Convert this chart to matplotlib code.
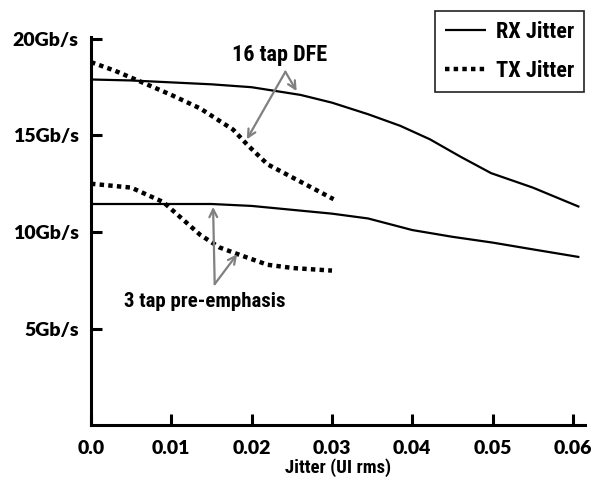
import numpy as np
import matplotlib
matplotlib.use("Agg")
import matplotlib.pyplot as plt

# values (jitter in UI rms, rate in Gb/s)
dfe_rx_x = [0.0, 0.005, 0.01, 0.015, 0.02, 0.0261, 0.03, 0.0345, 0.0385, 0.0422, 0.046, 0.0498, 0.055, 0.0608]
dfe_rx_y = [17.9, 17.85, 17.75, 17.65, 17.5, 17.1, 16.7, 16.1, 15.5, 14.8, 13.9, 13.05, 12.3, 11.3]

dfe_tx_x = [0.0, 0.003, 0.0061, 0.01, 0.0136, 0.0177, 0.0195, 0.022, 0.0261, 0.0302]
dfe_tx_y = [18.8, 18.35, 17.8, 17.1, 16.4, 15.3, 14.5, 13.5, 12.6, 11.7]

pre_rx_x = [0.0, 0.005, 0.01, 0.015, 0.02, 0.025, 0.03, 0.0345, 0.04, 0.045, 0.05, 0.055, 0.0608]
pre_rx_y = [11.45, 11.45, 11.45, 11.45, 11.35, 11.15, 10.95, 10.7, 10.1, 9.75, 9.45, 9.1, 8.7]

pre_tx_x = [0.0, 0.005, 0.009, 0.0136, 0.016, 0.0186, 0.022, 0.0252, 0.030]
pre_tx_y = [12.5, 12.3, 11.55, 9.85, 9.2, 8.8, 8.3, 8.13, 8.0]

yticks = [5, 10, 15, 20]
ytick_labels = ["5Gb/s", "10Gb/s", "15Gb/s", "20Gb/s"]
xticks = [0.0, 0.01, 0.02, 0.03, 0.04, 0.05, 0.06]
xtick_labels = ["0.0", "0.01", "0.02", "0.03", "0.04", "0.05", "0.06"]

narrow = ["Liberation Sans Narrow", "Roboto Condensed", "DejaVu Sans Condensed", "Roboto", "DejaVu Sans"]
tickfont = ["Lato", "Liberation Sans", "DejaVu Sans"]

fig = plt.figure(figsize=(6.01, 4.79), dpi=100)
ax = fig.add_axes([0.1514, 0.1127, 0.822, 0.81])

solid = dict(color="black", lw=1.6, solid_capstyle="butt")
dotted = dict(color="black", lw=3.2, linestyle=(0, (1, 0.95)), dash_capstyle="butt")

ax.plot(dfe_rx_x, dfe_rx_y, label="RX Jitter", **solid)
ax.plot(pre_rx_x, pre_rx_y, **solid)
ax.plot(dfe_tx_x, dfe_tx_y, label="TX Jitter", **dotted)
ax.plot(pre_tx_x, pre_tx_y, **dotted)

ax.set_xlim(0, 0.0615)
ax.set_ylim(0, 20.1)
ax.set_xticks(xticks)
ax.set_xticklabels(xtick_labels, fontsize=14, fontweight="heavy", family=tickfont)
ax.set_yticks(yticks)
ax.set_yticklabels(ytick_labels, fontsize=14, fontweight="heavy", family=tickfont)
ax.tick_params(direction="in", length=8, width=2.2)
ax.tick_params(axis="x", pad=11)
ax.tick_params(axis="y", pad=9)
for s in ["top", "right"]:
    ax.spines[s].set_visible(False)
for s in ["left", "bottom"]:
    ax.spines[s].set_linewidth(2.2)
ax.set_xlabel("Jitter (UI rms)", fontsize=13.5, fontweight="bold", family=narrow, labelpad=1)

arrow = dict(arrowstyle="->", color="#808080", lw=1.6, mutation_scale=14, shrinkA=0, shrinkB=0)
ax.text(0.0235, 19.15, "16 tap DFE", fontsize=16, fontweight="bold", family=narrow, ha="center", va="center")
ax.annotate("", xy=(0.0256, 17.3), xytext=(0.0242, 18.3), arrowprops=arrow)
ax.annotate("", xy=(0.0194, 14.8), xytext=(0.0242, 18.3), arrowprops=arrow)

ax.text(0.0141, 6.4, "3 tap pre-emphasis", fontsize=15, fontweight="bold", family=narrow, ha="center", va="center")
ax.annotate("", xy=(0.0152, 11.3), xytext=(0.0154, 7.3), arrowprops=arrow)
ax.annotate("", xy=(0.0182, 8.85), xytext=(0.0154, 7.3), arrowprops=arrow)

leg = fig.legend(loc="upper right", bbox_to_anchor=(0.9717, 0.977), borderaxespad=0, fancybox=False,
                 edgecolor="#222222", framealpha=1, handlelength=1.85, handletextpad=0.45,
                 borderpad=0.45, labelspacing=0.75,
                 prop={"family": narrow, "weight": "bold", "size": 16})
leg.get_frame().set_linewidth(1.2)

fig.savefig("out.png", dpi=100)
